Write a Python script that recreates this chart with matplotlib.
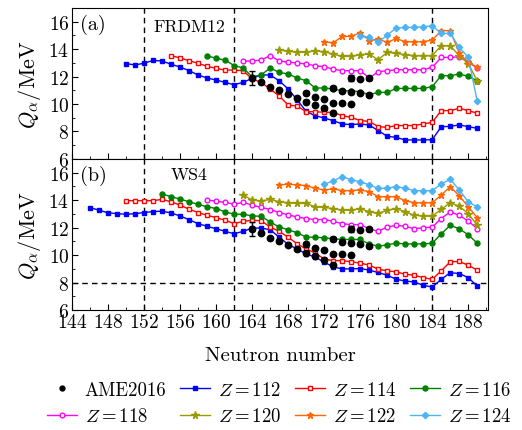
import numpy as np
import matplotlib
matplotlib.use('Agg')
import matplotlib.pyplot as plt
from matplotlib.ticker import MultipleLocator

plt.rcParams['font.family'] = 'serif'
plt.rcParams['font.serif'] = ['cmr10']
plt.rcParams['mathtext.fontset'] = 'cm'
plt.rcParams['axes.unicode_minus'] = False
plt.rcParams['axes.formatter.use_mathtext'] = True

# datos experimentales AME2016 (iguales en los dos paneles)
ame_n = [164, 165, 166, 167, 168, 169, 170, 170, 171, 171, 172, 172, 173, 173, 173,
         174, 174, 175, 175, 175, 176, 176, 177, 177]
ame_q = [11.88, 11.62, 11.25, 11.02, 10.72, 10.44, 10.80, 10.18, 10.54, 9.94, 10.37, 9.68,
         11.15, 10.08, 9.32, 10.98, 10.07, 11.90, 10.90, 9.98, 11.82, 10.82, 11.88, 10.68]
ame_err = [0.5, 0, 0.1, 0.1, 0, 0, 0.17, 0.1, 0, 0, 0, 0.1, 0.15, 0, 0,
           0, 0, 0.25, 0, 0, 0, 0, 0.1, 0]

# panel (a) FRDM12, primer N de cada serie y valores
a_start = {112: 150, 114: 155, 116: 159, 118: 163, 120: 167, 122: 172, 124: 176}
a112 = [12.95, 12.85, 12.98, 13.18, 13.14, 12.90, 12.70, 12.43, 12.12, 11.90,
        11.75, 11.58, 11.41, 11.58, 11.88, 12.12, 12.12, 11.70, 11.10, 10.30,
        9.47, 9.15, 8.98, 8.79, 8.55, 8.50, 8.55, 8.47, 8.06, 7.65,
        7.57, 7.38, 7.38, 7.38, 7.40, 8.35, 8.37, 8.48, 8.35, 8.23]
a114 = [13.53, 13.36, 13.16, 12.97, 12.75, 12.60, 12.48, 12.48, 12.43, 11.83,
        11.58, 11.10, 10.59, 9.93, 9.85, 9.44, 9.44, 9.40, 9.40, 9.15,
        9.03, 8.79, 8.74, 8.35, 8.30, 8.43, 8.43, 8.43, 8.55, 8.67,
        9.52, 9.52, 9.69, 9.52, 9.33]
a116 = [13.53, 13.33, 13.21, 12.80, 12.63, 11.99, 12.12, 12.63, 12.31, 12.19,
        11.90, 11.70, 11.17, 11.17, 11.10, 10.97, 10.97, 10.90, 10.68, 10.85,
        10.85, 11.14, 11.14, 11.14, 11.14, 11.27, 12.07, 12.07, 12.19, 12.02, 11.70]
a118 = [13.14, 13.14, 13.21, 13.53, 13.15, 13.05, 13.00, 12.92, 12.79, 12.72,
        12.55, 12.43, 12.43, 12.43, 11.90, 12.36, 12.43, 12.50, 12.50, 12.50,
        12.50, 12.68, 13.40, 13.40, 13.45, 13.04, 12.63]
a120 = [13.95, 13.84, 13.77, 13.77, 13.89, 13.81, 13.64, 13.47, 13.47, 13.60,
        13.64, 13.23, 13.77, 13.69, 13.60, 13.52, 13.52, 13.53, 14.25, 14.25,
        13.53, 12.95, 11.70]
a122 = [14.54, 14.47, 14.93, 14.93, 15.20, 14.62, 14.74, 14.49, 14.78, 14.54,
        14.54, 14.54, 14.67, 15.35, 15.35, 13.70, 13.04, 12.68]
a124 = [14.98, 14.86, 14.49, 15.03, 15.54, 15.59, 15.59, 15.63, 15.71, 15.15,
        15.15, 14.13, 13.40, 10.20]

# panel (b) WS4
b_start = {112: 146, 114: 150, 116: 154, 118: 159, 120: 163, 122: 167, 124: 172}
b112 = [13.46, 13.27, 13.08, 13.02, 12.97, 13.02, 13.10, 13.17, 13.20, 13.07,
        12.85, 12.58, 12.29, 12.10, 11.92, 11.73, 11.56, 11.73, 11.97, 11.97,
        11.85, 11.31, 10.78, 10.45, 10.09, 9.86, 9.50, 9.15, 9.00, 9.00,
        9.03, 8.91, 8.74, 8.54, 8.25, 8.12, 8.05, 7.81, 7.68, 8.24,
        8.73, 8.66, 8.37, 7.75]
b114 = [13.96, 13.96, 13.96, 13.96, 14.06, 13.88, 13.64, 13.34, 13.10, 12.90,
        12.73, 12.54, 12.29, 12.46, 12.54, 12.50, 12.05, 11.73, 11.31, 10.82,
        10.45, 10.16, 9.72, 9.60, 9.60, 9.52, 9.42, 9.28, 8.98, 8.86,
        8.79, 8.61, 8.54, 8.37, 8.24, 8.86, 9.52, 9.54, 9.27, 8.91]
b116 = [14.45, 14.25, 14.08, 13.88, 13.69, 13.52, 13.39, 13.15, 12.98, 12.98,
        12.85, 12.83, 12.41, 12.05, 11.85, 11.63, 11.31, 11.31, 11.26, 11.19,
        11.14, 11.14, 11.14, 10.82, 10.65, 10.75, 10.87, 10.82, 10.82, 10.82,
        10.87, 11.55, 12.17, 11.92, 11.48, 10.87]
b118 = [14.01, 13.93, 13.83, 13.71, 13.83, 13.64, 13.47, 13.32, 13.10, 12.93,
        12.78, 12.66, 12.59, 12.59, 12.46, 12.29, 12.22, 12.22, 11.92, 11.73,
        12.05, 12.17, 12.10, 11.92, 11.99, 12.04, 12.66, 13.15, 12.90, 12.48, 11.92]
b120 = [14.37, 14.01, 13.93, 14.06, 13.88, 13.81, 13.76, 13.76, 13.52, 13.47,
        13.39, 13.27, 13.27, 13.39, 13.15, 13.03, 13.27, 13.39, 13.15, 12.90,
        12.85, 12.83, 13.34, 13.81, 13.56, 13.02, 12.17]
b122 = [15.11, 15.16, 15.11, 15.06, 14.86, 14.74, 14.82, 14.69, 14.69, 14.74,
        14.62, 14.25, 14.25, 14.25, 13.96, 13.81, 13.81, 13.81, 14.37, 14.98,
        14.32, 13.51, 12.73]
b124 = [15.16, 15.40, 15.72, 15.48, 15.35, 15.11, 14.86, 14.86, 14.99, 14.86,
        14.69, 14.69, 14.69, 15.18, 15.52, 14.74, 13.88, 13.51]

a_vals = {112: a112, 114: a114, 116: a116, 118: a118, 120: a120, 122: a122, 124: a124}
b_vals = {112: b112, 114: b114, 116: b116, 118: b118, 120: b120, 122: b122, 124: b124}

# estilo de cada Z: color, marcador, tamano, relleno
estilos = {
    112: ('#0000ff', 's', 3.2, True),
    114: ('#ff0000', 's', 3.2, False),
    116: ('#008000', 'o', 3.6, True),
    118: ('#ff00ff', 'o', 3.4, False),
    120: ('#999900', '*', 5.5, True),
    122: ('#ff6600', '*', 5.0, True),
    124: ('#4db3f5', 'D', 3.2, True),
}

fig = plt.figure(figsize=(5.22, 4.31), dpi=100)
ax1 = fig.add_axes([0.138, 0.629, 0.797, 0.350])
ax2 = fig.add_axes([0.138, 0.278, 0.797, 0.351])

def dibujar(ax, start, vals):
    for z in [112, 114, 116, 118, 120, 122, 124]:
        col, mk, ms, lleno = estilos[z]
        n = np.arange(start[z], start[z] + len(vals[z]))
        ax.plot(n, vals[z], color=col, marker=mk, markersize=ms, lw=1.0,
                mfc=col if lleno else 'white', mec=col, mew=1.0,
                label=f'$Z={z}$')
    err = np.array(ame_err)
    ax.errorbar(ame_n, ame_q, yerr=np.where(err > 0, err, np.nan), fmt='o', color='black',
                markersize=4.6, elinewidth=1.0, capsize=2.5, capthick=1.0, zorder=5)
    for xv in [152, 162, 184]:
        ax.axvline(xv, color='black', ls=(0, (4, 3)), lw=1.0, zorder=1)
    ax.set_xlim(144, 190.2)
    ax.set_ylim(6, 17)
    ax.xaxis.set_major_locator(MultipleLocator(4))
    ax.xaxis.set_minor_locator(MultipleLocator(2))
    ax.yaxis.set_major_locator(MultipleLocator(2))
    ax.yaxis.set_minor_locator(MultipleLocator(1))
    ax.tick_params(which='both', direction='in', labelsize=14, top=False, right=False, pad=2)
    ax.tick_params(which='major', length=4)
    ax.tick_params(which='minor', length=2.5)
    ax.set_ylabel(r'$Q_\alpha/\mathrm{MeV}$', fontsize=16, labelpad=4)

dibujar(ax1, a_start, a_vals)
dibujar(ax2, b_start, b_vals)
ax1.tick_params(labelbottom=False)
ax2.axhline(8, color='black', ls=(0, (4, 3)), lw=1.0, zorder=1)
ax2.set_xlabel('Neutron number', fontsize=15, labelpad=11)

ax1.text(144.9, 15.85, '(a)', fontsize=14.5, va='center', ha='left')
ax2.text(144.9, 15.85, '(b)', fontsize=14.5, va='center', ha='left')
ax1.text(153.0, 15.7, 'FRDM12', fontsize=12.7, va='center', ha='left')
ax2.text(157.0, 15.9, 'WS4', fontsize=12.7, va='center', ha='center')

# leyenda abajo en 4 columnas (se llena por columnas, se reordena por filas)
h, l = ax1.get_legend_handles_labels()
ame_h = plt.Line2D([], [], ls='none', marker='o', color='black', markersize=3.5)
todos_h = [ame_h] + h
todos_l = ['AME2016'] + l
orden = [0, 4, 1, 5, 2, 6, 3, 7]
fig.legend([todos_h[i] for i in orden], [todos_l[i] for i in orden],
           loc='center', bbox_to_anchor=(0.535, 0.063), ncol=4,
           frameon=False, fontsize=13.5, handlelength=1.6, handletextpad=0.4,
           columnspacing=0.75, labelspacing=0.45)

fig.savefig('out.png', dpi=100)
